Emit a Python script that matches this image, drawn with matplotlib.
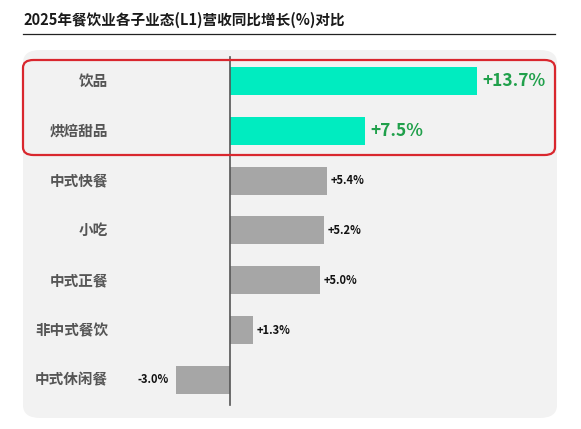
import matplotlib
matplotlib.use("Agg")
import matplotlib.pyplot as plt
from matplotlib.patches import FancyBboxPatch

plt.rcParams['font.family'] = ['Noto Sans CJK SC', 'DejaVu Sans']

categories = ["饮品", "烘焙甜品", "中式快餐", "小吃", "中式正餐", "非中式餐饮", "中式休闲餐"]
growth = [13.7, 7.5, 5.4, 5.2, 5.0, 1.3, -3.0]
value_labels = ["+13.7%", "+7.5%", "+5.4%", "+5.2%", "+5.0%", "+1.3%", "-3.0%"]
highlight = [True, True, False, False, False, False, False]

W, H = 581, 429
fig = plt.figure(figsize=(W / 100, H / 100), dpi=100)
fig.patch.set_facecolor("white")

def px(x, y):
    # figure fraction from pixel coords (top-left origin)
    return x / W, 1 - y / H

# title and rule
fig.text(*px(23, 20), "2025年餐饮业各子业态(L1)营收同比增长(%)对比", fontsize=10.5,
         fontweight="bold", color="#1a1a1a", va="center", ha="left")
fig.add_artist(plt.Line2D([23 / W, 555 / W], [1 - 34 / H] * 2, color="#222222", lw=0.9))

# light panel
x0, y0 = px(23, 418)
panel = FancyBboxPatch((x0, y0), (557 - 23) / W, (418 - 50) / H,
                       boxstyle="round,pad=0,rounding_size=0.03", transform=fig.transFigure,
                       facecolor="#f2f2f2", edgecolor="none", zorder=0)
fig.add_artist(panel)

# axes spanning panel
ax = fig.add_axes([23 / W, 1 - 418 / H, (557 - 23) / W, (418 - 50) / H])
ax.set_facecolor("none")
scale = 18.03  # px per percentage point
ax.set_xlim(-(230 - 23) / scale, (557 - 230) / scale)
step = 49.8
ax.set_ylim((418 - 81) / step, -(81 - 50) / step)
for s in ax.spines.values():
    s.set_visible(False)
ax.set_xticks([])
ax.set_yticks([])

ypos = list(range(len(categories)))
colors = ["#00ecc0" if h else "#a6a6a6" for h in highlight]
ax.barh(ypos, growth, height=0.56, color=colors, zorder=2)

ax.plot([0, 0], [-(81 - 57) / step, (405 - 81) / step], color="#555555", lw=1.2, zorder=3)

label_x = (108 - 230) / scale
for i, (cat, v, lab, h) in enumerate(zip(categories, growth, value_labels, highlight)):
    ax.text(label_x, i, cat, ha="right", va="center", fontsize=10.5, fontweight="bold",
            color="#555555")
    if h:
        ax.text(v + 0.28, i, lab, ha="left", va="center", fontsize=12.5, fontweight="bold",
                color="#20a04b")
    elif v >= 0:
        ax.text(v + 0.2, i, lab, ha="left", va="center", fontsize=8, fontweight="bold",
                color="#111111")
    else:
        ax.text(v - 0.4, i, lab, ha="right", va="center", fontsize=8, fontweight="bold",
                color="#111111")

# red highlight box
bx, by = px(23, 155)
box = FancyBboxPatch((bx, by), (555 - 23) / W, (155 - 60) / H,
                     boxstyle="round,pad=0,rounding_size=0.018", transform=fig.transFigure,
                     facecolor="none", edgecolor="#d9272e", lw=1.6, zorder=5)
fig.add_artist(box)

fig.savefig("out.png", dpi=100)
